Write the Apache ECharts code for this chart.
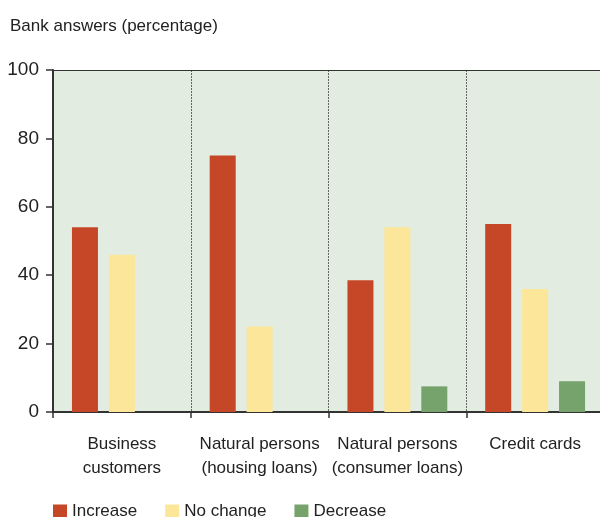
<!DOCTYPE html>
<html>
<head>
<meta charset="utf-8">
<script src="https://cdn.jsdelivr.net/npm/echarts@6/dist/echarts.min.js"></script>
<style>
  html, body { margin: 0; padding: 0; background: #ffffff; }
  #chart { width: 600px; height: 517px; }
</style>
</head>
<body>
<div id="chart"></div>
<script>
// Bank lending survey: share of answers per segment
const categories = ['Business\ncustomers', 'Natural persons\n(housing loans)', 'Natural persons\n(consumer loans)', 'Credit cards'];
const increase = [54, 75, 38.5, 55];
const noChange = [46, 25, 54, 36];
const decrease = [0, 0, 7.5, 9];
const yTicks = [0, 20, 40, 60, 80, 100];

const FONT = '"Liberation Sans", Arial, sans-serif';
const TEXT = '#222222';

const chart = echarts.init(document.getElementById('chart'), null, { renderer: 'canvas' });

chart.setOption({
  animation: false,
  backgroundColor: '#ffffff',
  title: {
    text: 'Bank answers (percentage)',
    left: 5,
    top: 13,
    textStyle: { fontFamily: FONT, fontSize: 17, fontWeight: 'normal', color: TEXT }
  },
  legend: {
    left: 48,
    top: 498,
    itemWidth: 14,
    itemHeight: 14,
    itemGap: 28,
    icon: 'rect',
    textStyle: { fontFamily: FONT, fontSize: 17, color: TEXT },
    data: ['Increase', 'No change', 'Decrease']
  },
  grid: {
    left: 53,
    width: 551,
    top: 70,
    bottom: 105,
    outerBoundsMode: 'none',
    show: true,
    backgroundColor: '#E2ECE1',
    borderWidth: 0,
    containLabel: false
  },
  xAxis: [
    {
      type: 'category',
      data: categories,
      axisLine: { show: true, lineStyle: { color: '#333333', width: 2 } },
      axisTick: { show: true, length: 6, lineStyle: { color: '#333333', width: 1.5 } },
      axisLabel: {
        fontFamily: FONT, fontSize: 17, color: TEXT, margin: 20, lineHeight: 24,
        interval: 0
      },
      splitLine: { show: true, interval: 0, lineStyle: { color: '#666666', width: 1, type: [2, 1] } }
    },
    {
      // top frame line of the plot area
      type: 'category',
      position: 'top',
      data: categories,
      axisLine: { show: true, lineStyle: { color: '#333333', width: 1 } },
      axisTick: { show: false },
      axisLabel: { show: false },
      splitLine: { show: false }
    }
  ],
  yAxis: {
    type: 'value',
    min: 0,
    max: 100,
    interval: 20,
    axisLine: { show: true, lineStyle: { color: '#333333', width: 2 } },
    axisTick: { show: true, length: 7, inside: false, lineStyle: { color: '#333333', width: 1.5 } },
    axisLabel: {
      fontFamily: FONT, fontSize: 19, color: TEXT, margin: 14,
      customValues: yTicks
    },
    splitLine: { show: false }
  },
  series: [
    {
      name: 'Increase', type: 'bar', data: increase,
      barWidth: 26, barGap: '42%',
      itemStyle: { color: '#C54727' }
    },
    {
      name: 'No change', type: 'bar', data: noChange,
      barWidth: 26, barGap: '42%',
      itemStyle: { color: '#FCE699' }
    },
    {
      name: 'Decrease', type: 'bar', data: decrease,
      barWidth: 26, barGap: '42%',
      itemStyle: { color: '#76A36C' }
    }
  ]
});
</script>
</body>
</html>
